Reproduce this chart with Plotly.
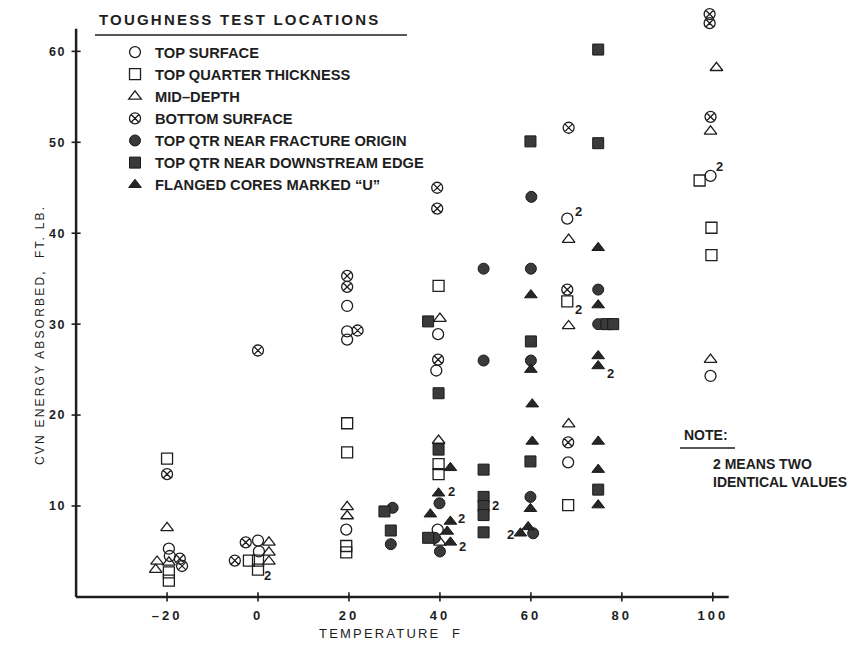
import plotly.graph_objects as go

# Charpy V-notch impact energy (ft-lb) against test temperature (deg F)
# Points are offset a little sideways from the nominal test temperature so that
# specimens tested at the same temperature stay readable.

top_surface_T = [-19.6, -19.4, 0.0, 0.2, 19.6, 19.6, 19.6, 19.4, 39.6, 39.2, 39.5, 68.0, 68.2, 99.5, 99.5]
top_surface_E = [5.3, 4.5, 6.2, 5.0, 32.0, 29.2, 28.3, 7.4, 28.9, 24.9, 7.4, 41.6, 14.8, 46.3, 24.3]

top_quarter_T = [-20.0, -19.6, -19.6, -2.0, 0.0, 0.0, 19.6, 19.6, 19.4, 19.4, 39.7, 39.7, 39.7,
                 68.0, 68.2, 97.1, 99.7, 99.7]
top_quarter_E = [15.2, 2.7, 1.8, 4.0, 4.0, 3.0, 19.1, 15.9, 5.6, 4.9, 34.2, 14.6, 13.5,
                 32.5, 10.1, 45.8, 40.6, 37.6]

mid_depth_T = [-20.0, -22.2, -22.5, -19.6, 2.4, 2.4, 2.4, 19.6, 19.6, 40.0, 39.7, 40.0,
               68.3, 68.3, 68.3, 100.8, 99.5, 99.5]
mid_depth_E = [7.6, 3.9, 3.0, 3.8, 6.0, 4.9, 3.9, 9.9, 8.9, 30.6, 17.2, 6.0,
               39.3, 29.8, 19.0, 58.2, 51.2, 26.1]

bottom_surface_T = [-20.0, -17.2, -16.7, -2.7, -5.1, 0.0, 19.6, 19.6, 21.9, 39.4, 39.4, 39.6,
                    68.3, 68.0, 68.2, 99.3, 99.3, 99.5]
bottom_surface_E = [13.5, 4.2, 3.4, 6.0, 4.0, 27.1, 35.3, 34.1, 29.3, 45.0, 42.7, 26.1,
                    51.6, 33.8, 17.0, 64.1, 63.1, 52.8]

fracture_origin_T = [29.6, 29.2, 39.9, 38.9, 40.0, 49.6, 49.6, 60.1, 60.0, 60.0, 59.9, 60.5, 74.8, 74.8]
fracture_origin_E = [9.8, 5.8, 10.3, 6.5, 5.0, 36.1, 26.0, 44.0, 36.1, 26.0, 11.0, 7.0, 33.8, 30.0]

downstream_edge_T = [27.8, 29.2, 37.4, 39.7, 39.7, 37.4, 49.6, 49.6, 49.6, 49.6, 49.6,
                     59.9, 60.0, 59.9, 74.8, 74.8, 76.6, 78.1, 74.8]
downstream_edge_E = [9.4, 7.3, 30.3, 22.4, 16.2, 6.5, 14.0, 11.0, 10.0, 9.0, 7.1,
                     50.1, 28.1, 14.9, 60.2, 49.9, 30.0, 30.0, 11.8]

flanged_T = [42.3, 39.7, 37.9, 42.3, 41.6, 42.3, 60.0, 60.0, 60.3, 60.3, 59.9, 57.7, 59.4,
             74.8, 74.8, 74.8, 74.8, 74.8, 74.8, 74.8]
flanged_E = [14.2, 11.4, 9.1, 8.3, 7.2, 6.0, 33.2, 25.0, 21.2, 17.1, 9.7, 7.0, 7.7,
             38.4, 32.1, 26.5, 25.4, 17.1, 14.0, 10.1]

# points that stand for two identical results (marked "2")
doubles_T = [0.0, 39.7, 42.3, 42.3, 49.6, 57.7, 68.0, 68.0, 74.8, 99.5]
doubles_E = [3.0, 11.4, 8.3, 6.0, 10.0, 7.0, 32.5, 41.6, 25.4, 46.3]

x_ticks = [-20, 0, 20, 40, 60, 80, 100]
y_ticks = [10, 20, 30, 40, 50, 60]

# ---- layout geometry (pixels) ----
W, H = 864, 651
ML, MR, MT, MB = 67, 133, 5, 45
PW, PH = W - ML - MR, H - MT - MB
X_RANGE = [-42, 104]
Y_RANGE = [-1, 65.1]
X_AXIS_END = 103.5
Y_AXIS_TOP = 62.5

INK = "#1e1e1e"
FONT = "Liberation Sans, Arial, sans-serif"


def px_x(px):
    return (px - ML) / PW


def px_y(py):
    return (H - MB - py) / PH


def spaced(text, gap):
    return f'<span style="letter-spacing:{gap}px">{text}</span>'


series = [
    ("TOP SURFACE", top_surface_T, top_surface_E, "circle-open", None),
    ("TOP QUARTER THICKNESS", top_quarter_T, top_quarter_E, "square-open", None),
    ("MID\u2013DEPTH", mid_depth_T, mid_depth_E, "triangle-up-open", None),
    ("BOTTOM SURFACE", bottom_surface_T, bottom_surface_E, "circle-x-open", None),
    ("TOP QTR NEAR FRACTURE ORIGIN", fracture_origin_T, fracture_origin_E, "circle", "#3a3a3a"),
    ("TOP QTR NEAR DOWNSTREAM EDGE", downstream_edge_T, downstream_edge_E, "square", "#3a3a3a"),
    ("FLANGED CORES MARKED \u201cU\u201d", flanged_T, flanged_E, "triangle-up", "#262626"),
]

fig = go.Figure()
for name, xs, ys, sym, fill in series:
    if fill is None:
        marker = dict(symbol=sym, size=11, color=INK, line=dict(color=INK, width=1.3))
    else:
        marker = dict(symbol=sym, size=11, color=fill, line=dict(color="#1a1a1a", width=1))
    fig.add_trace(go.Scatter(x=xs, y=ys, mode="markers", name=name, marker=marker,
                             cliponaxis=False, hoverinfo="x+y+name"))

# "2" tags beside doubled results, offset in pixels from the marker
dbl_dx = [9, 13, 11, 12, 12, -10, 11, 11, 12, 9]
dbl_dy = [-6, 2, 3, -4, 0, -1, -8, 7, -8, 9]
annotations = []
for t, e, dx, dy in zip(doubles_T, doubles_E, dbl_dx, dbl_dy):
    annotations.append(dict(x=t, y=e, xref="x", yref="y", text="<b>2</b>", showarrow=False,
                            xshift=dx, yshift=dy, font=dict(family=FONT, size=13, color=INK)))

# axis lines and crossing tick marks
shapes = [
    dict(type="line", xref="x", yref="y", x0=X_RANGE[0] + 2, x1=X_AXIS_END, y0=0, y1=0,
         line=dict(color=INK, width=2.5)),
    dict(type="line", xref="x", yref="y", x0=X_RANGE[0] + 2, x1=X_RANGE[0] + 2, y0=0, y1=Y_AXIS_TOP,
         line=dict(color=INK, width=2.5)),
]
for t in x_ticks:
    shapes.append(dict(type="line", xref="x", yref="y", x0=t, x1=t, y0=-0.5, y1=0.5,
                       line=dict(color=INK, width=1.6)))
for v in y_ticks:
    shapes.append(dict(type="line", xref="x", yref="y", x0=X_RANGE[0] + 1, x1=X_RANGE[0] + 3,
                       y0=v, y1=v, line=dict(color=INK, width=1.6)))

# legend heading with underline
annotations.append(dict(x=px_x(97), y=px_y(20), xref="paper", yref="paper", xanchor="left",
                        yanchor="middle", showarrow=False,
                        text=spaced("TOUGHNESS TEST LOCATIONS", 2.2),
                        font=dict(family=FONT, size=15, color=INK, weight="bold")))
shapes.append(dict(type="line", xref="paper", yref="paper", x0=px_x(95), x1=px_x(407),
                   y0=px_y(35), y1=px_y(35), line=dict(color=INK, width=1.5)))

# note on doubled values
annotations.append(dict(x=px_x(682), y=px_y(435), xref="paper", yref="paper", xanchor="left",
                        yanchor="middle", showarrow=False, text="NOTE:",
                        font=dict(family=FONT, size=14, color=INK, weight="bold")))
shapes.append(dict(type="line", xref="paper", yref="paper", x0=px_x(680), x1=px_x(735),
                   y0=px_y(448), y1=px_y(448), line=dict(color=INK, width=1.5)))
annotations.append(dict(x=px_x(711), y=px_y(473), xref="paper", yref="paper", xanchor="left",
                        yanchor="middle", showarrow=False, align="left",
                        text="2 MEANS TWO<br>IDENTICAL VALUES",
                        font=dict(family=FONT, size=14, color=INK, weight="bold")))

# axis titles
annotations.append(dict(x=px_x(390), y=px_y(643), xref="paper", yref="paper", showarrow=False,
                        text=spaced("TEMPERATURE&nbsp;&nbsp;F", 2.2),
                        font=dict(family=FONT, size=13, color=INK)))
annotations.append(dict(x=px_x(31), y=px_y(335), xref="paper", yref="paper", showarrow=False,
                        textangle=-90, text=spaced("CVN ENERGY ABSORBED,&nbsp;&nbsp;FT. LB.", 2.2),
                        font=dict(family=FONT, size=12, color=INK)))

fig.update_layout(
    width=W, height=H,
    margin=dict(l=ML, r=MR, t=MT, b=MB, pad=0, autoexpand=False),
    paper_bgcolor="white", plot_bgcolor="white",
    font=dict(family=FONT, color=INK),
    showlegend=True,
    legend=dict(x=px_x(115), y=px_y(36), xanchor="left", yanchor="top",
                bgcolor="rgba(0,0,0,0)",
                font=dict(family=FONT, size=14.7, color=INK, weight="bold"),
                itemwidth=30, tracegroupgap=0),
    xaxis=dict(range=X_RANGE, showgrid=False, zeroline=False, showline=False,
               tickvals=x_ticks, ticktext=[spaced(str(t).replace("-", "\u2013"), 3) for t in x_ticks],
               ticks="", tickfont=dict(family=FONT, size=13, color=INK, weight="bold")),
    yaxis=dict(range=Y_RANGE, showgrid=False, zeroline=False, showline=False,
               tickvals=y_ticks, ticktext=[spaced(str(v), 1.5) for v in y_ticks],
               ticks="", tickfont=dict(family=FONT, size=12.5, color=INK, weight="bold")),
    shapes=shapes,
    annotations=annotations,
)

fig.write_html("out.html")
